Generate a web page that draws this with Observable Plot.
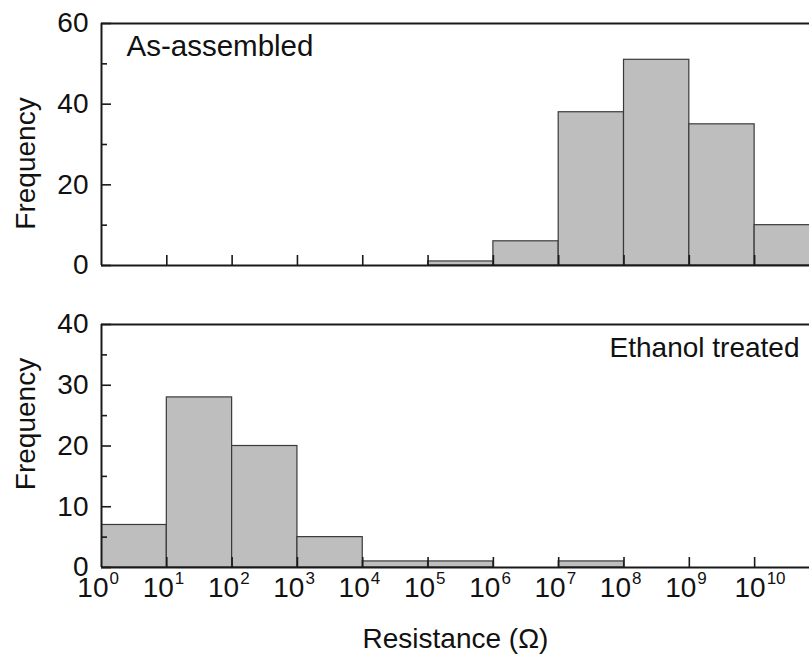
<!DOCTYPE html>
<html>
<head>
<meta charset="utf-8">
<script src="https://cdn.jsdelivr.net/npm/d3@7"></script>
<script src="https://cdn.jsdelivr.net/npm/@observablehq/plot@0.6"></script>
<style>
  html, body { margin: 0; padding: 0; background: #fff; }
  #chart { width: 809px; height: 656px; }
  #chart svg { display: block; }
</style>
</head>
<body>
<div id="chart"></div>
<script>
// Histogram bins: one bin per decade of resistance, starting at 10^n
const binExponents = [0, 1, 2, 3, 4, 5, 6, 7, 8, 9, 10];
const asAssembledCounts = [0, 0, 0, 0, 0, 1, 6, 38, 51, 35, 10];
const ethanolTreatedCounts = [7, 28, 20, 5, 1, 1, 0, 1, 0, 0, 0];

// Axis ticks
const xTickExponents = [0, 1, 2, 3, 4, 5, 6, 7, 8, 9, 10];
const topMajorTicks = [0, 20, 40, 60];
const topMinorTicks = [10, 30, 50];
const bottomMajorTicks = [0, 10, 20, 30, 40];
const bottomMinorTicks = [5, 15, 25, 35];

const panelLabels = ["As-assembled", "Ethanol treated"];
const yTitle = "Frequency";
const xTitle = "Resistance (\u03A9)";

const FONT = "'Liberation Sans', Arial, Helvetica, sans-serif";
const X_DOMAIN = [1, 10 ** 10.84];
const AXIS_COLOR = "#1a1a1a";

function bins(counts) {
  return binExponents
    .map((e, i) => ({lo: 10 ** e, hi: 10 ** (e + 1), count: counts[i]}))
    .filter(d => d.count > 0);
}

function panel({counts, yMax, majors, minors, height, marginTop, marginBottom,
                label, labelSide, labelDy, yTitleDy, withXLabels}) {
  const marks = [
    Plot.rectY(bins(counts), {
      x1: "lo", x2: "hi", y: "count",
      fill: "#bebebe", stroke: "#3a3a3a", strokeWidth: 1.2, clip: true
    }),
    // frame: top, left and bottom edges
    Plot.ruleY([yMax], {stroke: AXIS_COLOR, strokeWidth: 2}),
    Plot.ruleY([0], {stroke: AXIS_COLOR, strokeWidth: 2}),
    Plot.ruleX([1], {stroke: AXIS_COLOR, strokeWidth: 2}),
    // inward ticks
    Plot.axisX({ticks: xTickExponents.slice(1).map(e => 10 ** e), tickSize: 10, dy: -10,
                tickFormat: () => "", label: null, stroke: AXIS_COLOR, strokeWidth: 1.6}),
    Plot.axisY({ticks: majors, tickSize: 10, dx: 10, tickFormat: () => "", label: null,
                stroke: AXIS_COLOR, strokeWidth: 1.6}),
    Plot.axisY({ticks: minors, tickSize: 6, dx: 6, tickFormat: () => "", label: null,
                stroke: AXIS_COLOR, strokeWidth: 1.6}),
    // y tick labels
    Plot.axisY({ticks: majors, tickSize: 0, tickPadding: 13, label: null,
                fontSize: 28, fill: "#111"}),
    // y title
    Plot.text([yTitle], {
      frameAnchor: "left", rotate: -90, dx: -75, dy: yTitleDy,
      fontSize: 28, fill: "#111", textAnchor: "middle", lineAnchor: "middle"
    }),
    // panel annotation
    Plot.text([label], {
      frameAnchor: labelSide === "left" ? "top-left" : "top-right",
      textAnchor: labelSide === "left" ? "start" : "end",
      lineAnchor: "middle",
      dx: labelSide === "left" ? 25 : -10, dy: labelDy,
      fontSize: labelSide === "left" ? 29.5 : 28, fill: "#111"
    })
  ];

  if (withXLabels) {
    const single = xTickExponents.filter(e => e < 10);
    const double = xTickExponents.filter(e => e >= 10);
    const base = (data, dx) => Plot.text(data, {
      x: e => 10 ** e, text: () => "10", frameAnchor: "bottom", lineAnchor: "middle",
      textAnchor: "end", dx, dy: 21, fontSize: 28, fill: "#111"
    });
    const sup = (data, dx) => Plot.text(data, {
      x: e => 10 ** e, text: e => String(e), frameAnchor: "bottom", lineAnchor: "middle",
      textAnchor: "start", dx, dy: 11, fontSize: 17, fill: "#111"
    });
    marks.push(base(single, 7), sup(single, 8), base(double, 11), sup(double, 12));
    marks.push(Plot.text([xTitle], {
      frameAnchor: "bottom", lineAnchor: "middle", dy: 72,
      fontSize: 28, fill: "#111", textAnchor: "middle"
    }));
  }

  return Plot.plot({
    width: 809,
    height,
    marginLeft: 101,
    marginRight: 0,
    marginTop,
    marginBottom,
    style: {fontFamily: FONT, background: "#fff", overflow: "hidden"},
    x: {type: "log", domain: X_DOMAIN, axis: null},
    y: {domain: [0, yMax], axis: null},
    marks
  });
}

const chart = document.getElementById("chart");
chart.append(panel({
  counts: asAssembledCounts, yMax: 60,
  majors: topMajorTicks, minors: topMinorTicks,
  height: 290, marginTop: 23, marginBottom: 25,
  label: panelLabels[0], labelSide: "left", labelDy: 23, yTitleDy: 19,
  withXLabels: false
}));
chart.append(panel({
  counts: ethanolTreatedCounts, yMax: 40,
  majors: bottomMajorTicks, minors: bottomMinorTicks,
  height: 366, marginTop: 34, marginBottom: 89,
  label: panelLabels[1], labelSide: "right", labelDy: 24, yTitleDy: -22,
  withXLabels: true
}));
</script>
</body>
</html>
